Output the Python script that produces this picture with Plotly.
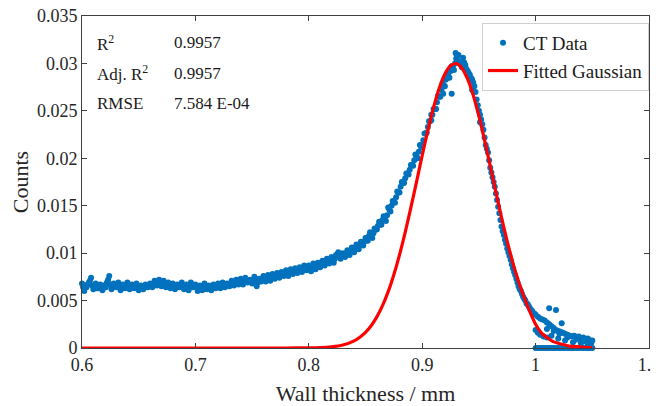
import numpy as np
import plotly.graph_objects as go

# CT histogram, bins every 0.002 mm from 0.600 to 1.050
ct_x = np.round(np.arange(0.600, 1.0505, 0.002), 3)
ct_y = [
    0.0068, 0.0060, 0.0064, 0.0069, 0.0074,
    0.0062, 0.0068, 0.0063, 0.0067, 0.0061,
    0.0066, 0.0069, 0.0076, 0.0062, 0.0068,
    0.0064, 0.0069, 0.0061, 0.0067, 0.0063,
    0.0069, 0.0062, 0.0067, 0.0063, 0.0068,
    0.0061, 0.0066, 0.0062, 0.0067, 0.0064,
    0.0068, 0.0064, 0.0071, 0.0066, 0.0072,
    0.0065, 0.0071, 0.0064, 0.0069, 0.0063,
    0.0068, 0.0062, 0.0067, 0.0064, 0.0069,
    0.0062, 0.0067, 0.0061, 0.0069, 0.0064,
    0.0067, 0.0060, 0.0066, 0.0061, 0.0068,
    0.0062, 0.0066, 0.0061, 0.0067, 0.0063,
    0.0068, 0.0063, 0.0069, 0.0064, 0.0068,
    0.0065, 0.0071, 0.0066, 0.0072, 0.0067,
    0.0073, 0.0067, 0.0074, 0.0069, 0.0072,
    0.0068, 0.0075, 0.0065, 0.0073, 0.0070,
    0.0076, 0.0070, 0.0077, 0.0071, 0.0078,
    0.0073, 0.0079, 0.0074, 0.0080, 0.0076,
    0.0082, 0.0076, 0.0083, 0.0078, 0.0084,
    0.0079, 0.0085, 0.0080, 0.0087, 0.0082,
    0.0087, 0.0081, 0.0089, 0.0083, 0.0090,
    0.0085, 0.0092, 0.0087, 0.0094, 0.0089,
    0.0096, 0.0090, 0.0098, 0.0101, 0.0094,
    0.0100, 0.0096, 0.0103, 0.0098, 0.0106,
    0.0101, 0.0109, 0.0104, 0.0112, 0.0108,
    0.0116, 0.0113, 0.0122, 0.0116, 0.0126,
    0.0125, 0.0133, 0.0130, 0.0139, 0.0134,
    0.0148, 0.0144, 0.0155, 0.0153, 0.0165,
    0.0164, 0.0175, 0.0174, 0.0184, 0.0183,
    0.0193, 0.0192, 0.0204, 0.0200, 0.0214,
    0.0213, 0.0226, 0.0227, 0.0239, 0.0240,
    0.0252, 0.0252, 0.0266, 0.0265, 0.0279,
    0.0276, 0.0289, 0.0285, 0.0297, 0.0293,
    0.0305, 0.0309, 0.0302, 0.0306, 0.0298,
    0.0292, 0.0288, 0.0283, 0.0276, 0.0262,
    0.0250, 0.0241, 0.0230, 0.0214, 0.0206,
    0.0190, 0.0180, 0.0170, 0.0156, 0.0142,
    0.0128, 0.0119, 0.0110, 0.0101, 0.0093,
    0.0084, 0.0077, 0.0069, 0.0062, 0.0057,
    0.0052, 0.0047, 0.0044, 0.0040, 0.0037,
    0.0035, 0.0033, 0.0031, 0.0030, 0.0029,
    0.0027, 0.0025, 0.0023, 0.0021, 0.0019,
    0.0018, 0.0017, 0.0016, 0.0015, 0.0014,
    0.0013, 0.0012, 0.0013, 0.0011, 0.0012,
    0.0010, 0.0011, 0.0009, 0.0010, 0.0008,
    0.0008,
]

# in-between bins, 0.601 to 0.999
ct2_x = np.round(np.arange(0.601, 0.9995, 0.002), 3)
ct2_y = [
    0.0064, 0.0066, 0.0067, 0.0071, 0.0066,
    0.0065, 0.0063, 0.0066, 0.0064, 0.0066,
    0.0064, 0.0072, 0.0067, 0.0065, 0.0066,
    0.0066, 0.0064, 0.0065, 0.0064, 0.0066,
    0.0065, 0.0064, 0.0065, 0.0066, 0.0064,
    0.0063, 0.0064, 0.0064, 0.0065, 0.0066,
    0.0066, 0.0067, 0.0068, 0.0069, 0.0068,
    0.0068, 0.0067, 0.0066, 0.0066, 0.0066,
    0.0065, 0.0065, 0.0066, 0.0066, 0.0065,
    0.0064, 0.0064, 0.0065, 0.0066, 0.0066,
    0.0064, 0.0063, 0.0064, 0.0064, 0.0065,
    0.0064, 0.0064, 0.0064, 0.0065, 0.0065,
    0.0066, 0.0066, 0.0066, 0.0066, 0.0067,
    0.0068, 0.0068, 0.0069, 0.0069, 0.0070,
    0.0070, 0.0071, 0.0071, 0.0071, 0.0071,
    0.0072, 0.0070, 0.0069, 0.0071, 0.0073,
    0.0073, 0.0074, 0.0074, 0.0075, 0.0075,
    0.0076, 0.0077, 0.0077, 0.0078, 0.0079,
    0.0079, 0.0080, 0.0081, 0.0081, 0.0082,
    0.0082, 0.0083, 0.0084, 0.0084, 0.0085,
    0.0084, 0.0085, 0.0086, 0.0087, 0.0088,
    0.0089, 0.0090, 0.0091, 0.0092, 0.0093,
    0.0093, 0.0094, 0.0097, 0.0097, 0.0097,
    0.0098, 0.0100, 0.0101, 0.0102, 0.0103,
    0.0105, 0.0106, 0.0108, 0.0110, 0.0112,
    0.0115, 0.0118, 0.0119, 0.0121, 0.0125,
    0.0129, 0.0131, 0.0135, 0.0136, 0.0140,
    0.0146, 0.0150, 0.0154, 0.0159, 0.0164,
    0.0170, 0.0174, 0.0179, 0.0184, 0.0188,
    0.0193, 0.0198, 0.0202, 0.0207, 0.0212,
    0.0219, 0.0226, 0.0233, 0.0239, 0.0246,
    0.0252, 0.0259, 0.0265, 0.0272, 0.0277,
    0.0283, 0.0287, 0.0292, 0.0296, 0.0300,
    0.0303, 0.0300, 0.0296, 0.0301, 0.0294,
    0.0290, 0.0285, 0.0280, 0.0270, 0.0256,
    0.0246, 0.0236, 0.0222, 0.0210, 0.0198,
    0.0185, 0.0175, 0.0163, 0.0149, 0.0135,
    0.0123, 0.0114, 0.0105, 0.0097, 0.0088,
    0.0080, 0.0073, 0.0065, 0.0060, 0.0054,
    0.0050, 0.0046, 0.0042, 0.0039, 0.0036,
]

# scattered points off the main band (peak and tail)
extra_x = [0.9185, 0.926, 0.9295, 0.9305, 0.912, 0.908, 0.934, 0.944, 0.951,
           1.012, 1.018, 1.023, 1.000, 1.002, 1.004, 1.007, 1.010, 1.014,
           1.020, 1.026, 1.033, 1.040, 1.046, 1.010, 1.016, 1.021, 1.028,
           1.036, 1.044, 1.049]
extra_y = [0.0268, 0.0268, 0.0311, 0.0308, 0.0252, 0.0246, 0.0300, 0.0272, 0.0238,
           0.0042, 0.0040, 0.0026, 0.0019, 0.0016, 0.0014, 0.0012, 0.0011, 0.0013,
           0.0010, 0.0008, 0.0006, 0.0005, 0.0004, 0.0020, 0.0018, 0.0015, 0.0011,
           0.0009, 0.0007, 0.0005]

# empty bins beyond 1.0 mm
zero_x = np.round(np.arange(1.000, 1.0505, 0.002), 3)
zero_y = [0.0] * len(zero_x)

# fitted gaussian
fit_x = [0.60, 0.70, 0.76, 0.78, 0.80, 0.81, 0.82, 0.83, 0.84, 0.845,
         0.85, 0.855, 0.86, 0.865, 0.87, 0.875, 0.88, 0.885, 0.89, 0.895,
         0.90, 0.905, 0.91, 0.915, 0.92, 0.925, 0.93, 0.935, 0.94, 0.945,
         0.95, 0.955, 0.96, 0.965, 0.97, 0.975, 0.98, 0.985, 0.99, 0.995,
         1.00, 1.005, 1.01, 1.015, 1.02, 1.03, 1.04, 1.05]
fit_y = [0.0, 0.0, 0.0000002, 0.000001, 0.000013, 0.000041, 0.00012, 0.00031, 0.00075, 0.00113,
         0.00165, 0.00235, 0.00328, 0.00446, 0.00594, 0.00773, 0.00982, 0.01219, 0.01479, 0.01752,
         0.02029, 0.02295, 0.02536, 0.02739, 0.02889, 0.02978, 0.02999, 0.02950, 0.02836, 0.02663,
         0.02444, 0.02191, 0.01919, 0.01642, 0.01373, 0.01121, 0.00895, 0.00698, 0.00532, 0.0038,
         0.0025, 0.0016, 0.0011, 0.0007, 0.0005, 0.0002, 0.0001, 0.00003]

stat_names = ["R<sup>2</sup>", "Adj. R<sup>2</sup>", "RMSE"]
stat_values = ["0.9957", "0.9957", "7.584 E-04"]

blue = "#0072BD"
axis_col = "#404040"
serif = "Liberation Serif, Times New Roman, serif"

fig = go.Figure()

all_x = list(ct_x) + list(ct2_x) + list(zero_x) + extra_x
all_y = list(ct_y) + list(ct2_y) + zero_y + extra_y
fig.add_trace(go.Scatter(x=all_x, y=all_y, mode="markers", name="CT Data",
                         marker=dict(color=blue, size=6), cliponaxis=False))
fig.add_trace(go.Scatter(x=fit_x, y=fit_y, mode="lines", name="Fitted Gaussian",
                         line=dict(color="#FF0000", width=3.2, shape="spline", smoothing=0.6)))

# fit statistics in the upper left
for i, (nm, val) in enumerate(zip(stat_names, stat_values)):
    yy = 0.9187 - i * 0.0904
    fig.add_annotation(x=0.023, y=yy, xref="paper", yref="paper", text=nm,
                       showarrow=False, xanchor="left", yanchor="middle",
                       font=dict(family=serif, size=17, color="#1a1a1a"))
    fig.add_annotation(x=0.1588, y=yy, xref="paper", yref="paper", text=val,
                       showarrow=False, xanchor="left", yanchor="middle",
                       font=dict(family=serif, size=17, color="#1a1a1a"))

axis_common = dict(showgrid=False, zeroline=False, showline=True, linecolor=axis_col,
                   linewidth=1, mirror="allticks", ticks="inside", ticklen=5,
                   tickcolor=axis_col, automargin=False, ticklabeloverflow="allow",
                   tickfont=dict(family=serif, size=18, color="#262626"))

# page body adds an 8px offset, so the figure is 8px smaller than the window
fig.update_layout(
    width=652, height=398,
    margin=dict(l=74, r=11, t=8, b=58),
    plot_bgcolor="white", paper_bgcolor="white",
    font=dict(family=serif, size=18, color="#262626"),
    xaxis=dict(range=[0.6, 1.1], dtick=0.1, tick0=0.6,
               title=dict(text="Wall thickness / mm", standoff=13), **axis_common),
    yaxis=dict(range=[0, 0.035], dtick=0.005, tick0=0,
               title=dict(text="Counts", standoff=6), **axis_common),
    legend=dict(x=1, y=0.979, xanchor="right", yanchor="top",
                bgcolor="white", bordercolor="#d0d0d0", borderwidth=1,
                font=dict(family=serif, size=19, color="#1a1a1a"),
                tracegroupgap=0, itemsizing="trace"),
    showlegend=True,
)

fig.write_html("out.html")
